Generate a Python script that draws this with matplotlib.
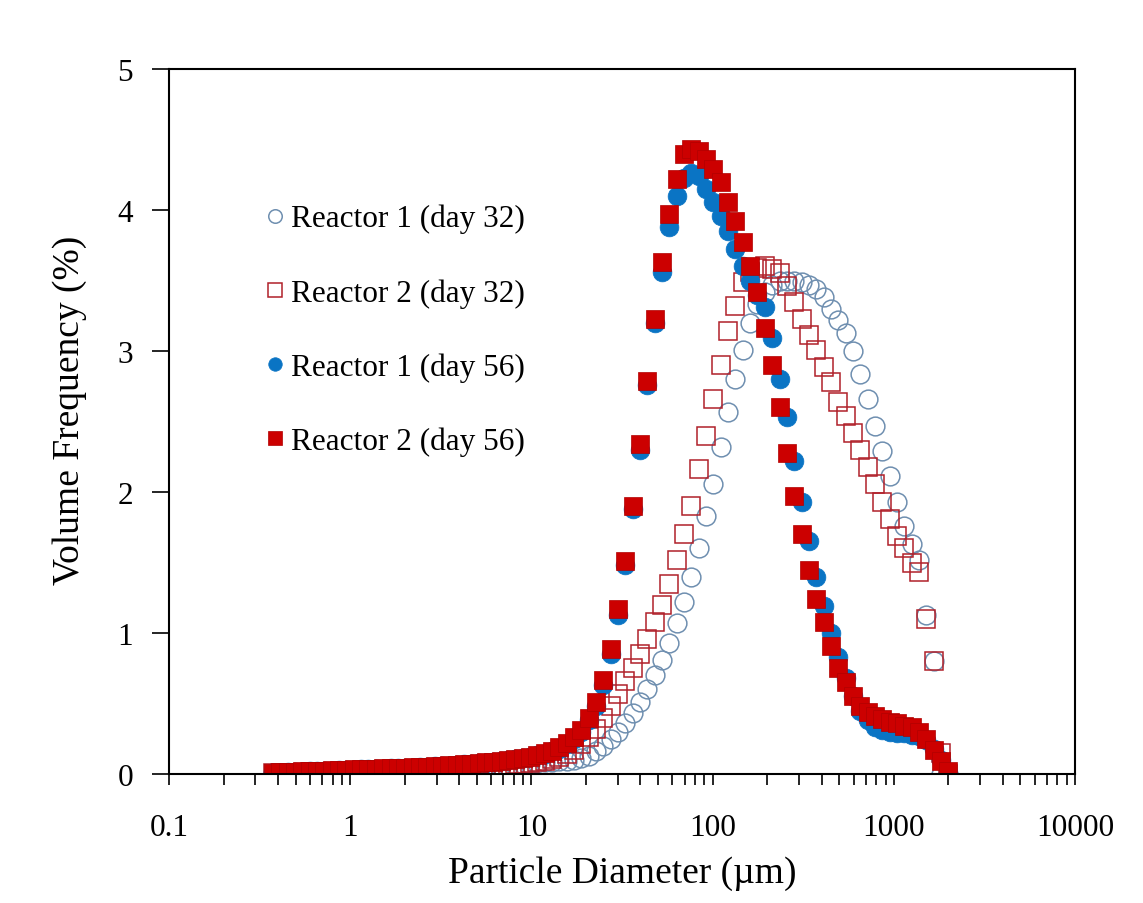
import matplotlib
matplotlib.use("Agg")
import matplotlib.pyplot as plt
import numpy as np

# Particle size channels (um)
diameter = [0.375, 0.412, 0.452, 0.496, 0.545, 0.598, 0.657, 0.721, 0.791, 0.869,
            0.954, 1.047, 1.149, 1.261, 1.385, 1.520, 1.669, 1.832, 2.011, 2.208,
            2.423, 2.660, 2.920, 3.206, 3.519, 3.863, 4.241, 4.656, 5.111, 5.611,
            6.159, 6.761, 7.422, 8.148, 8.944, 9.819, 10.78, 11.83, 12.99, 14.26,
            15.65, 17.18, 18.86, 20.71, 22.73, 24.95, 27.39, 30.07, 33.01, 36.24,
            39.78, 43.67, 47.94, 52.62, 57.77, 63.41, 69.61, 76.42, 83.89, 92.09,
            101.1, 111.0, 121.8, 133.7, 146.8, 161.2, 176.9, 194.2, 213.2, 234.1,
            256.9, 282.1, 309.6, 339.9, 373.1, 409.6, 449.7, 493.6, 541.9, 594.9,
            653.0, 716.8, 786.9, 863.9, 948.3, 1041, 1143, 1255, 1377, 1512,
            1660, 1822, 2000]

r1_day32 = [0.005, 0.006, 0.007, 0.008, 0.009, 0.010, 0.011, 0.012, 0.013, 0.014,
            0.015, 0.016, 0.017, 0.018, 0.019, 0.020, 0.021, 0.022, 0.024, 0.026,
            0.028, 0.030, 0.032, 0.034, 0.036, 0.038, 0.040, 0.043, 0.046, 0.049,
            0.052, 0.056, 0.060, 0.064, 0.068, 0.072, 0.077, 0.083, 0.088, 0.092,
            0.095, 0.10, 0.11, 0.13, 0.16, 0.20, 0.25, 0.30, 0.36, 0.43,
            0.51, 0.60, 0.70, 0.81, 0.93, 1.07, 1.22, 1.40, 1.60, 1.83,
            2.06, 2.32, 2.57, 2.80, 3.01, 3.20, 3.33, 3.42, 3.47, 3.50,
            3.50, 3.50, 3.49, 3.47, 3.44, 3.38, 3.30, 3.22, 3.13, 3.00,
            2.84, 2.66, 2.47, 2.29, 2.11, 1.93, 1.76, 1.63, 1.52, 1.13,
            0.80, 0.0, 0.0]
r2_day32 = [0.006, 0.007, 0.008, 0.009, 0.010, 0.011, 0.012, 0.013, 0.014, 0.015,
            0.016, 0.017, 0.018, 0.019, 0.020, 0.021, 0.022, 0.023, 0.025, 0.027,
            0.029, 0.031, 0.033, 0.035, 0.037, 0.040, 0.043, 0.046, 0.049, 0.052,
            0.056, 0.060, 0.064, 0.069, 0.074, 0.080, 0.087, 0.095, 0.105, 0.12,
            0.14, 0.17, 0.21, 0.26, 0.32, 0.40, 0.48, 0.57, 0.66, 0.75,
            0.85, 0.96, 1.08, 1.20, 1.35, 1.52, 1.70, 1.90, 2.16, 2.40,
            2.66, 2.90, 3.14, 3.32, 3.49, 3.56, 3.59, 3.60, 3.58, 3.55,
            3.46, 3.35, 3.23, 3.11, 3.01, 2.89, 2.78, 2.64, 2.54, 2.42,
            2.30, 2.18, 2.06, 1.93, 1.81, 1.69, 1.60, 1.50, 1.43, 1.10,
            0.80, 0.15, 0.0]
r1_day56 = [0.008, 0.010, 0.012, 0.014, 0.016, 0.018, 0.020, 0.022, 0.024, 0.026,
            0.028, 0.030, 0.032, 0.034, 0.036, 0.038, 0.040, 0.042, 0.044, 0.046,
            0.048, 0.051, 0.054, 0.057, 0.060, 0.064, 0.068, 0.072, 0.076, 0.081,
            0.086, 0.092, 0.098, 0.105, 0.113, 0.122, 0.132, 0.145, 0.16, 0.18,
            0.21, 0.25, 0.30, 0.38, 0.48, 0.63, 0.85, 1.13, 1.48, 1.88,
            2.30, 2.76, 3.20, 3.56, 3.88, 4.10, 4.23, 4.26, 4.24, 4.15,
            4.06, 3.96, 3.85, 3.72, 3.60, 3.50, 3.40, 3.31, 3.09, 2.80,
            2.53, 2.22, 1.93, 1.65, 1.40, 1.19, 1.00, 0.83, 0.68, 0.55,
            0.45, 0.38, 0.33, 0.31, 0.30, 0.29, 0.29, 0.28, 0.27, 0.24,
            0.18, 0.10, 0.01]
r2_day56 = [0.010, 0.012, 0.014, 0.016, 0.018, 0.020, 0.022, 0.024, 0.026, 0.028,
            0.030, 0.032, 0.034, 0.036, 0.038, 0.040, 0.042, 0.044, 0.046, 0.048,
            0.050, 0.053, 0.056, 0.059, 0.062, 0.066, 0.070, 0.074, 0.078, 0.083,
            0.088, 0.094, 0.100, 0.107, 0.115, 0.124, 0.135, 0.148, 0.165, 0.19,
            0.22, 0.26, 0.31, 0.40, 0.51, 0.67, 0.89, 1.17, 1.51, 1.90,
            2.34, 2.79, 3.23, 3.63, 3.97, 4.22, 4.40, 4.43, 4.42, 4.36,
            4.29, 4.20, 4.06, 3.92, 3.77, 3.60, 3.42, 3.16, 2.90, 2.60,
            2.28, 1.97, 1.70, 1.45, 1.24, 1.08, 0.91, 0.75, 0.65, 0.55,
            0.48, 0.44, 0.41, 0.39, 0.37, 0.36, 0.34, 0.33, 0.30, 0.25,
            0.17, 0.09, 0.02]

labels = ["Reactor 1 (day 32)", "Reactor 2 (day 32)",
          "Reactor 1 (day 56)", "Reactor 2 (day 56)"]

plt.rcParams['font.family'] = ['Liberation Serif', 'DejaVu Serif']

fig = plt.figure(figsize=(11.43, 9.04), dpi=100)
ax = fig.add_axes([169/1143, 1-775/904, (1075-169)/1143, (775-70)/904])

MS = 13.5
ax.plot(diameter, r1_day32, linestyle='none', marker='o', markersize=MS,
        markerfacecolor='none', markeredgecolor='#6f8fb0', markeredgewidth=1.1,
        label=labels[0])
ax.plot(diameter, r2_day32, linestyle='none', marker='s', markersize=MS,
        markerfacecolor='none', markeredgecolor='#b0202a', markeredgewidth=1.1,
        label=labels[1])
ax.plot(diameter, r1_day56, linestyle='none', marker='o', markersize=MS,
        markerfacecolor='#0a74c4', markeredgecolor='#0a74c4', markeredgewidth=0.5,
        label=labels[2])
ax.plot(diameter, r2_day56, linestyle='none', marker='s', markersize=MS,
        markerfacecolor='#cc0000', markeredgecolor='#b00000', markeredgewidth=0.5,
        label=labels[3])

ax.set_xscale('log')
ax.set_xlim(0.1, 10000)
ax.set_ylim(0, 5)
ax.set_yticks([0, 1, 2, 3, 4, 5])
ax.set_xticks([0.1, 1, 10, 100, 1000, 10000])
ax.set_xticklabels(['0.1', '1', '10', '100', '1000', '10000'])
ax.xaxis.set_minor_locator(matplotlib.ticker.LogLocator(base=10, subs=np.arange(2, 10)))
ax.xaxis.set_minor_formatter(matplotlib.ticker.NullFormatter())
ax.tick_params(axis='both', which='major', direction='out', length=8, width=1.2,
               labelsize=22.5, color='black')
ax.tick_params(axis='x', which='minor', direction='out', length=8, width=1.2)
ax.tick_params(axis='x', which='major', pad=20)
ax.tick_params(axis='y', which='major', length=12, pad=14)
for s in ax.spines.values():
    s.set_linewidth(1.5)

ax.set_xlabel('Particle Diameter (µm)', fontsize=27, labelpad=10)
ax.set_ylabel('Volume Frequency (%)', fontsize=27)
ax.yaxis.set_label_coords(-0.090, 0.517)

leg = ax.legend(loc='upper left', bbox_to_anchor=(266/1143, 1-205/904),
                bbox_transform=fig.transFigure, frameon=False, fontsize=22.5,
                handlelength=0.6, handletextpad=0.2, labelspacing=1.43,
                borderpad=0, borderaxespad=0, markerscale=0.72)

fig.savefig('out.png', dpi=100)
